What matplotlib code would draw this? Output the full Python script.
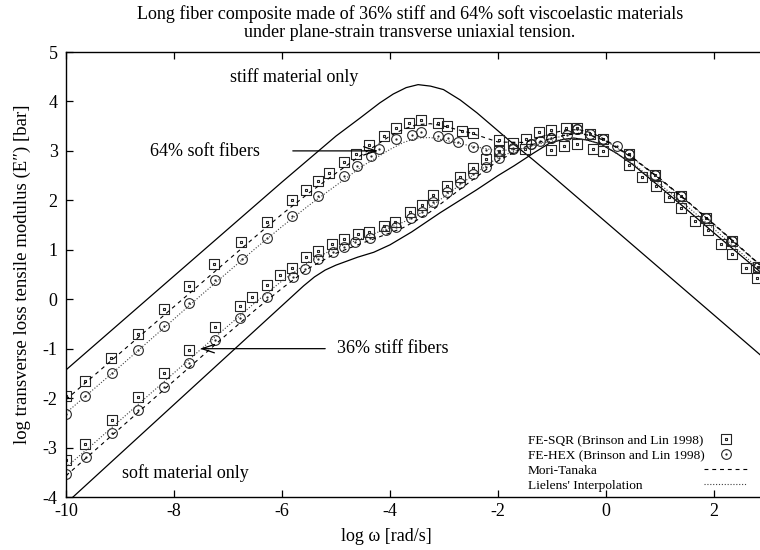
import matplotlib
matplotlib.use('Agg')
import matplotlib.pyplot as plt
from matplotlib.path import Path
from matplotlib.lines import Line2D

plt.rcParams['font.family'] = ['Liberation Serif', 'DejaVu Serif']
plt.rcParams['axes.unicode_minus'] = False

# ---- data ----
# stiff material only
stiff_x = [-10, -9, -8, -7, -6, -5, -4.56, -4.19, -3.94, -3.7, -3.48, -3.25, -3.01, -2.7,
           -2.39, -2.09, -1.78, -1.35, -0.98, 0, 1, 2, 2.85]
stiff_y = [-1.43, -0.48, 0.47, 1.42, 2.37, 3.3, 3.66, 3.97, 4.15, 4.28, 4.34, 4.31, 4.24, 4.03,
           3.77, 3.49, 3.2, 2.82, 2.48, 1.56, 0.62, -0.32, -1.12]

# soft material only
soft_x = [-10, -9, -8, -7, -6, -5.6, -5.4, -5.2, -5.0, -4.8, -4.6, -4.3, -4, -3.6, -3.07, -2.4, -2,
          -1.7, -1.35, -1.04, -0.8, -0.6, -0.35, -0.1, 0.2, 0.5, 1, 1.5, 2, 2.5, 2.85]
soft_y = [-4.13, -3.13, -2.13, -1.13, -0.13, 0.27, 0.45, 0.59, 0.69, 0.77, 0.85, 0.95, 1.1, 1.36, 1.75,
          2.21, 2.5, 2.7, 2.95, 3.16, 3.23, 3.26, 3.22, 3.14, 2.95, 2.72, 2.27, 1.81, 1.34, 0.88, 0.56]

# FE-SQR, 64% soft fibers
sq64_x = [-10, -9.65, -9.17, -8.67, -8.19, -7.72, -7.26, -6.76, -6.27, -5.81, -5.56, -5.34, -5.13,
          -4.86, -4.63, -4.38, -4.12, -3.89, -3.65, -3.43, -3.12, -2.95, -2.67, -2.46, -1.98, -1.73,
          -1.49, -1.24, -1.01, -0.74, -0.54, -0.30, -0.06, 0.43, 0.91, 1.39, 1.86, 2.34, 2.81]
sq64_y = [-1.95, -1.65, -1.19, -0.70, -0.20, 0.26, 0.71, 1.15, 1.56, 2.00, 2.21, 2.39, 2.56,
          2.77, 2.94, 3.12, 3.31, 3.47, 3.56, 3.63, 3.56, 3.51, 3.41, 3.36, 3.22, 3.16,
          3.24, 3.38, 3.43, 3.46, 3.47, 3.34, 3.24, 2.93, 2.52, 2.09, 1.64, 1.17, 0.66]

# FE-HEX, 64% soft fibers
hex64_x = [-10, -9.65, -9.15, -8.67, -8.19, -7.72, -7.24, -6.75, -6.27, -5.81, -5.33, -4.86, -4.61,
           -4.36, -4.20, -3.89, -3.59, -3.42, -3.12, -2.93, -2.74, -2.46, -2.22, -1.98, -1.73, -1.38,
           -1.23, -1.02, -0.73, -0.54, -0.30, -0.06, 0.20, 0.43, 0.91, 1.39, 1.86, 2.34, 2.81]
hex64_y = [-2.32, -1.96, -1.50, -1.02, -0.54, -0.07, 0.38, 0.81, 1.23, 1.69, 2.08, 2.50, 2.70,
           2.89, 3.04, 3.25, 3.32, 3.39, 3.31, 3.27, 3.18, 3.08, 3.02, 2.99, 3.05, 3.14,
           3.20, 3.27, 3.33, 3.44, 3.34, 3.24, 3.09, 2.93, 2.52, 2.09, 1.64, 1.17, 0.66]

# FE-SQR, 36% stiff fibers
sq36_x = [-10, -9.64, -9.15, -8.67, -8.19, -7.72, -7.24, -6.77, -6.56, -6.28, -6.04, -5.81, -5.56,
          -5.33, -5.07, -4.85, -4.59, -4.38, -4.11, -3.90, -3.63, -3.41, -3.20, -2.94, -2.70, -2.46,
          -2.23, -1.99, -1.50, -1.01, -0.78, -0.53, -0.25, -0.06, 0.43, 0.67, 0.92, 1.17, 1.38,
          1.65, 1.88, 2.13, 2.33, 2.60, 2.80]
sq36_y = [-3.25, -2.92, -2.44, -1.97, -1.50, -1.03, -0.57, -0.14, 0.05, 0.28, 0.49, 0.64, 0.86,
          0.98, 1.12, 1.21, 1.32, 1.36, 1.49, 1.57, 1.76, 1.90, 2.10, 2.28, 2.48, 2.65,
          2.83, 2.99, 3.03, 3.02, 3.09, 3.14, 3.04, 2.99, 2.71, 2.48, 2.29, 2.06, 1.84,
          1.59, 1.40, 1.11, 0.92, 0.64, 0.42]

# FE-HEX, 36% stiff fibers
hex36_x = [-10, -9.63, -9.15, -8.67, -8.19, -7.72, -7.25, -6.77, -6.28, -5.80, -5.58, -5.33, -5.06,
           -4.86, -4.65, -4.37, -4.07, -3.89, -3.61, -3.41, -3.20, -2.95, -2.70, -2.46, -2.23, -1.98,
           -1.73, -1.38, -1.02, -0.54, -0.06, 0.43, 0.91, 1.39, 1.86, 2.34, 2.81]
hex36_y = [-3.54, -3.19, -2.71, -2.24, -1.77, -1.28, -0.82, -0.38, 0.05, 0.44, 0.61, 0.82, 0.96,
           1.06, 1.15, 1.24, 1.40, 1.46, 1.64, 1.77, 1.96, 2.16, 2.35, 2.53, 2.68, 2.86,
           3.04, 3.14, 3.27, 3.44, 3.24, 2.93, 2.52, 2.09, 1.64, 1.17, 0.66]

# model curves (Mori-Tanaka / Lielens) on a common grid
model_x = [-10, -9.5, -9, -8.5, -8, -7.5, -7, -6.5, -6, -5.5, -5, -4.5, -4, -3.75, -3.5, -3.25,
           -3, -2.5, -2, -1.5, -1, -0.75, -0.5, -0.25, 0, 0.5, 1, 1.5, 2, 2.5, 2.85]
mt64 = [-2.03, -1.56, -1.09, -0.62, -0.15, 0.32, 0.79, 1.26, 1.72, 2.15, 2.55, 2.94, 3.3, 3.44, 3.53, 3.55,
        3.5, 3.36, 3.18, 3.17, 3.36, 3.42, 3.43, 3.36, 3.22, 2.86, 2.44, 1.99, 1.52, 1.04, 0.7]
li64 = [-2.3, -1.83, -1.36, -0.88, -0.4, 0.08, 0.55, 1.02, 1.47, 1.9, 2.3, 2.7, 3.03, 3.17, 3.26, 3.27,
        3.22, 3.1, 3.0, 3.05, 3.24, 3.32, 3.36, 3.31, 3.2, 2.85, 2.43, 1.98, 1.51, 1.03, 0.69]
mt36 = [-3.57, -3.09, -2.61, -2.13, -1.65, -1.17, -0.69, -0.22, 0.22, 0.63, 0.93, 1.14, 1.34, 1.45, 1.6, 1.77,
        1.98, 2.39, 2.8, 3.08, 3.26, 3.32, 3.35, 3.3, 3.2, 2.85, 2.43, 1.98, 1.51, 1.03, 0.69]
li36 = [-3.4, -2.93, -2.45, -1.97, -1.49, -1.01, -0.54, -0.07, 0.37, 0.76, 1.04, 1.24, 1.45, 1.56, 1.7, 1.87,
        2.07, 2.48, 2.87, 3.07, 3.2, 3.24, 3.25, 3.19, 3.08, 2.74, 2.32, 1.88, 1.42, 0.94, 0.6]

legend_labels = ['FE-SQR (Brinson and Lin 1998)', 'FE-HEX (Brinson and Lin 1998)',
                 'Mori-Tanaka', "Lielens' Interpolation"]

# gnuplot-like markers: open square / circle with a dot in the middle
sq_marker = Path.make_compound_path(
    Path([(-1, -1), (1, -1), (1, 1), (-1, 1), (-1, -1)], closed=True),
    Path([(-0.12, -0.12), (0.12, -0.12), (0.12, 0.12), (-0.12, 0.12), (-0.12, -0.12)], closed=True))
ci_marker = Path.make_compound_path(Path.unit_circle(), Path.circle((0, 0), 0.12))

FS = 13

fig = plt.figure(figsize=(7.6, 5.5), dpi=100)
ax = fig.add_axes([66 / 760, 53 / 550, 702 / 760, 445 / 550])

ax.plot(stiff_x, stiff_y, color='black', lw=0.9)
ax.plot(soft_x, soft_y, color='black', lw=0.9)

mk = dict(ls='none', mfc='none', mec='0.15', mew=0.8)
h_sq, = ax.plot(sq64_x, sq64_y, marker=sq_marker, ms=7.2, **mk)
h_hex, = ax.plot(hex64_x, hex64_y, marker=ci_marker, ms=7, **mk)
ax.plot(sq36_x, sq36_y, marker=sq_marker, ms=7.2, **mk)
ax.plot(hex36_x, hex36_y, marker=ci_marker, ms=7, **mk)

h_mt, = ax.plot(model_x, mt64, color='black', lw=0.8, dashes=(3.5, 3.5))
h_li, = ax.plot(model_x, li64, color='0.25', lw=0.8, dashes=(1, 1.6))
ax.plot(model_x, mt36, color='black', lw=0.8, dashes=(3.5, 3.5))
ax.plot(model_x, li36, color='0.25', lw=0.8, dashes=(1, 1.6))

# annotations
ax.text(-5.78, 4.5, 'stiff material only', fontsize=FS, ha='center', va='center')
ax.text(-7.79, -3.52, 'soft material only', fontsize=FS, ha='center', va='center')
ax.text(-6.41, 2.98, '64% soft fibers', fontsize=FS, ha='right', va='center')
ax.text(-4.98, -1.0, '36% stiff fibers', fontsize=FS, ha='left', va='center')
arr = dict(arrowstyle='->,head_length=0.9,head_width=0.3', color='black', lw=0.9,
           shrinkA=0, shrinkB=0)
ax.annotate('', xy=(-4.22, 3.0), xytext=(-5.8, 3.0), arrowprops=arr)
ax.annotate('', xy=(-7.52, -1.0), xytext=(-5.2, -1.0), arrowprops=arr)

ax.set_xlim(-10, 3)
ax.set_ylim(-4, 5)
ax.set_xticks([-10, -8, -6, -4, -2, 0, 2])
ax.set_yticks(range(-4, 6))
ax.tick_params(direction='in', length=5, width=0.9, top=True, right=True, labelsize=FS)
ax.tick_params(axis='x', pad=4)
ax.tick_params(axis='y', pad=6)
for s in ax.spines.values():
    s.set_linewidth(1.0)

ax.set_xlabel('log ω [rad/s]', fontsize=FS)
ax.xaxis.set_label_coords(0.457, -0.07)
ax.set_ylabel('log transverse loss tensile modulus (E″) [bar]', fontsize=13.5)
ax.yaxis.set_label_coords(-0.05, 0.5)

fig.text(410 / 760, 1 - 5 / 550,
         'Long fiber composite made of 36% stiff and 64% soft viscoelastic materials\n'
         'under plane-strain transverse uniaxial tension.',
         ha='center', va='top', fontsize=FS, linespacing=1.1)

# gnuplot-style key: left-aligned text, samples on the right
leg_kw = dict(frameon=False, fontsize=9.6, numpoints=1, labelspacing=0.2,
              borderpad=0, borderaxespad=0)
blank = [Line2D([], [], ls='none') for _ in legend_labels]
leg_text = ax.legend(blank, legend_labels, loc='lower left', bbox_to_anchor=(0.658, 0.012),
                     handlelength=0, handletextpad=0, **leg_kw)
ax.add_artist(leg_text)
ax.legend([h_sq, h_hex, h_mt, h_li], [' '] * 4, loc='lower right',
          bbox_to_anchor=(0.970, 0.012), markerfirst=False, handlelength=3.2,
          handletextpad=0, **leg_kw)

fig.savefig('out.png', dpi=100)
